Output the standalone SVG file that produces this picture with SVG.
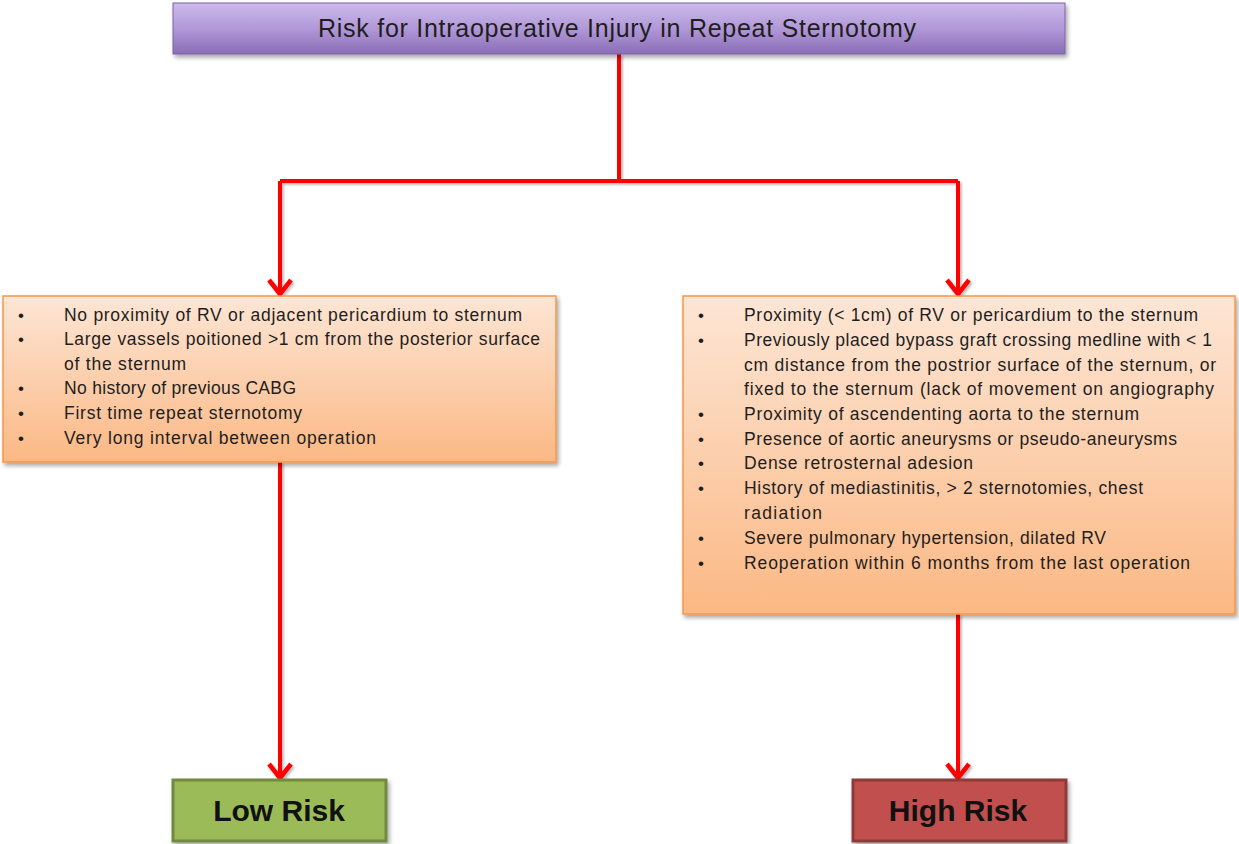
<svg xmlns="http://www.w3.org/2000/svg" width="1239" height="844" viewBox="0 0 1239 844">
  <defs>
    <linearGradient id="gTitle" x1="0" y1="0" x2="0" y2="1">
      <stop offset="0" stop-color="#cdbbeb"/>
      <stop offset="0.5" stop-color="#b198d8"/>
      <stop offset="1" stop-color="#8a6db6"/>
    </linearGradient>
    <linearGradient id="gOrange" x1="0" y1="0" x2="0" y2="1">
      <stop offset="0" stop-color="#fde6d5"/>
      <stop offset="1" stop-color="#fbb884"/>
    </linearGradient>
    <filter id="shadow" x="-5%" y="-5%" width="110%" height="120%">
      <feDropShadow dx="2" dy="3" stdDeviation="2" flood-color="#000" flood-opacity="0.35"/>
    </filter>
    <filter id="lshadow" x="-20%" y="-5%" width="140%" height="110%">
      <feDropShadow dx="2" dy="2" stdDeviation="1" flood-color="#000" flood-opacity="0.25"/>
    </filter>
    <marker id="arrow" markerUnits="userSpaceOnUse" orient="auto" refX="0" refY="0" markerWidth="30" markerHeight="30" viewBox="-20 -15 24 30" overflow="visible">
      <path d="M-14,-11 L0,0 L-14,11" fill="none" stroke="#ff0000" stroke-width="4.5" stroke-linejoin="miter"/>
    </marker>
    <style>
      .conn { fill: none; stroke: #ff0000; stroke-width: 4; }
      .item { font-family: "Liberation Sans", Arial, sans-serif; font-size: 17.5px; fill: #1e1e1e; }
      .bul { font-family: "Liberation Sans", Arial, sans-serif; font-size: 17px; fill: #1e1e1e; }
      .title { font-family: "Liberation Sans", Arial, sans-serif; font-size: 25px; fill: #1e1e1e; }
      .risk { font-family: "Liberation Sans", Arial, sans-serif; font-size: 30px; font-weight: bold; fill: #111; }
      .obox { fill: url(#gOrange); stroke: #f79646; stroke-width: 1.5; }
    </style>
  </defs>

  <g id="connectors" filter="url(#lshadow)">
    <path class="conn" d="M619,54 L619,181"/>
    <path class="conn" d="M280,181 L958,181"/>
    <path class="conn" d="M280,181 L280,294" marker-end="url(#arrow)"/>
    <path class="conn" d="M958,181 L958,294" marker-end="url(#arrow)"/>
    <path class="conn" d="M280,462 L280,778" marker-end="url(#arrow)"/>
    <path class="conn" d="M958,614 L958,778" marker-end="url(#arrow)"/>
  </g>

  <g id="title">
    <rect x="173" y="3" width="892" height="51" fill="url(#gTitle)" stroke="#7d60a6" stroke-width="1" filter="url(#shadow)"/>
    <text class="title" x="318" y="37" textLength="598">Risk for Intraoperative Injury in Repeat Sternotomy</text>
  </g>

  <g id="low-criteria">
    <rect class="obox" x="3" y="296" width="553" height="166" filter="url(#shadow)"/>
    <text class="bul" x="18" y="321">•</text>
    <text class="bul" x="18" y="345">•</text>
    <text class="bul" x="18" y="394">•</text>
    <text class="bul" x="18" y="419">•</text>
    <text class="bul" x="18" y="444">•</text>
    <text class="item" x="64" y="321" textLength="458">No proximity of RV or adjacent pericardium to sternum</text>
    <text class="item" x="64" y="345" textLength="476">Large vassels poitioned &gt;1 cm from the  posterior surface</text>
    <text class="item" x="64" y="370" textLength="122">of the sternum</text>
    <text class="item" x="64" y="394" textLength="232">No history of previous CABG</text>
    <text class="item" x="64" y="419" textLength="238">First time repeat sternotomy</text>
    <text class="item" x="64" y="444" textLength="312">Very long interval between  operation</text>
  </g>

  <g id="high-criteria">
    <rect class="obox" x="683" y="296" width="552" height="318" filter="url(#shadow)"/>
    <text class="bul" x="698" y="321">•</text>
    <text class="bul" x="698" y="346">•</text>
    <text class="bul" x="698" y="420">•</text>
    <text class="bul" x="698" y="445">•</text>
    <text class="bul" x="698" y="469">•</text>
    <text class="bul" x="698" y="494">•</text>
    <text class="bul" x="698" y="544">•</text>
    <text class="bul" x="698" y="569">•</text>
    <text class="item" x="744" y="321" textLength="454">Proximity (&lt; 1cm) of RV or pericardium to the sternum</text>
    <text class="item" x="744" y="346" textLength="468">Previously placed bypass graft crossing medline with &lt; 1</text>
    <text class="item" x="744" y="371" textLength="472">cm distance from the postrior surface of the sternum, or</text>
    <text class="item" x="744" y="395" textLength="470">fixed to the sternum (lack of movement  on angiography</text>
    <text class="item" x="744" y="420" textLength="395">Proximity of ascendenting aorta to the sternum</text>
    <text class="item" x="744" y="445" textLength="433">Presence of aortic aneurysms or pseudo-aneurysms</text>
    <text class="item" x="744" y="469" textLength="229">Dense retrosternal adesion</text>
    <text class="item" x="744" y="494" textLength="399">History of mediastinitis, &gt; 2 sternotomies, chest</text>
    <text class="item" x="744" y="519" textLength="78">radiation</text>
    <text class="item" x="744" y="544" textLength="362">Severe  pulmonary hypertension, dilated RV</text>
    <text class="item" x="744" y="569" textLength="446">Reoperation within 6 months from the  last operation</text>
  </g>

  <g id="low-risk">
    <rect x="173" y="780" width="213" height="61" fill="#9bbb59" stroke="#71893f" stroke-width="3" filter="url(#shadow)"/>
    <text class="risk" x="279" y="821" text-anchor="middle">Low Risk</text>
  </g>

  <g id="high-risk">
    <rect x="853" y="780" width="213" height="61" fill="#c0504d" stroke="#8c3a38" stroke-width="3" filter="url(#shadow)"/>
    <text class="risk" x="958" y="821" text-anchor="middle">High Risk</text>
  </g>
</svg>
